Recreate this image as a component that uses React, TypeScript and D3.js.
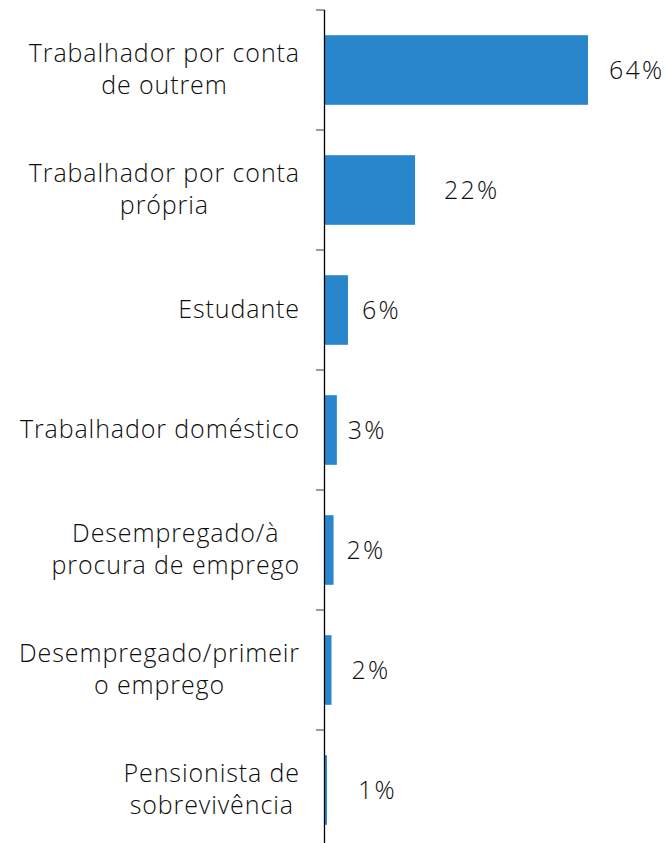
import React from "react";
import * as d3 from "d3";

const categories: string[][] = [
  ["Trabalhador por conta", "de outrem"],
  ["Trabalhador por conta", "própria"],
  ["Estudante"],
  ["Trabalhador doméstico"],
  ["Desempregado/à", "procura de emprego"],
  ["Desempregado/primeir", "o emprego"],
  ["Pensionista de", "sobrevivência"],
];
const values: number[] = [64, 22, 5.7, 3.0, 2.2, 1.7, 0.6];
const valueLabels: string[] = ["64%", "22%", "6%", "3%", "2%", "2%", "1%"];

const W = 668;
const H = 843;
const axisX = 324.5;
const top = 10;
const step = 120;
const labelGap = [21, 29, 14, 11, 13, 20, 31];
const FONT = "'Open Sans', sans-serif";
const FS = 25;
const FW = 300;
const LS = 0.9;

function measure(s: string): number {
  const c = document.createElement("canvas").getContext("2d");
  if (!c) return s.length * FS * 0.5;
  c.font = `${FW} ${FS}px 'Open Sans'`;
  return c.measureText(s).width + LS * s.length;
}

export default function App() {
  const x = d3.scaleLinear().domain([0, 64]).range([axisX, 588]);
  const y = d3
    .scaleBand<number>()
    .domain(d3.range(categories.length))
    .range([top, top + step * categories.length])
    .paddingInner(0.42)
    .paddingOuter(0.21);
  const ticks = d3.range(categories.length + 1).map((i) => top + i * step);
  const lineH = 32;
  const [ready, setReady] = React.useState(false);
  React.useEffect(() => {
    const f = (document as any).fonts;
    if (f && f.load) {
      f.load(`${FW} ${FS}px 'Open Sans'`).then(() => setReady(true), () => setReady(true));
    } else setReady(true);
  }, []);
  return (
    <svg
      width={W}
      height={H}
      style={{ position: "absolute", left: 0, top: 0, background: "#fff" }}
      data-ready={ready ? 1 : 0}
    >
      {values.map((v, i) => (
        <rect
          key={i}
          x={axisX}
          y={y(i)!}
          width={x(v) - axisX}
          height={y.bandwidth()}
          fill="#2986CC"
        />
      ))}
      {ticks.map((t, i) => (
        <line key={i} x1={316} x2={axisX} y1={t} y2={t} stroke="#666" strokeWidth={1.3} />
      ))}
      <line x1={axisX} x2={axisX} y1={top} y2={H} stroke="#000" strokeWidth={1.3} />
      {categories.map((lines, i) => {
        const cy = y(i)! + y.bandwidth() / 2 - 1;
        const start = cy - ((lines.length - 1) * lineH) / 2;
        const maxW = Math.max(...lines.map(measure));
        const cx = 300 - maxW / 2;
        return (
          <text
            key={i}
            textAnchor="middle"
            fontFamily={FONT}
            fontSize={FS}
            fontWeight={FW}
            letterSpacing={LS}
            fill="#0d0d0d"
          >
            {lines.map((l, j) => (
              <tspan key={j} x={cx} y={start + j * lineH} dy="0.35em">
                {l}
              </tspan>
            ))}
          </text>
        );
      })}
      {values.map((v, i) => (
        <text
          key={i}
          x={x(v) + labelGap[i]}
          y={y(i)! + y.bandwidth() / 2}
          dy="0.35em"
          fontFamily={FONT}
          fontSize={FS}
          fontWeight={FW}
          letterSpacing={2.2}
          fill="#0d0d0d"
        >
          {valueLabels[i]}
        </text>
      ))}
    </svg>
  );
}
